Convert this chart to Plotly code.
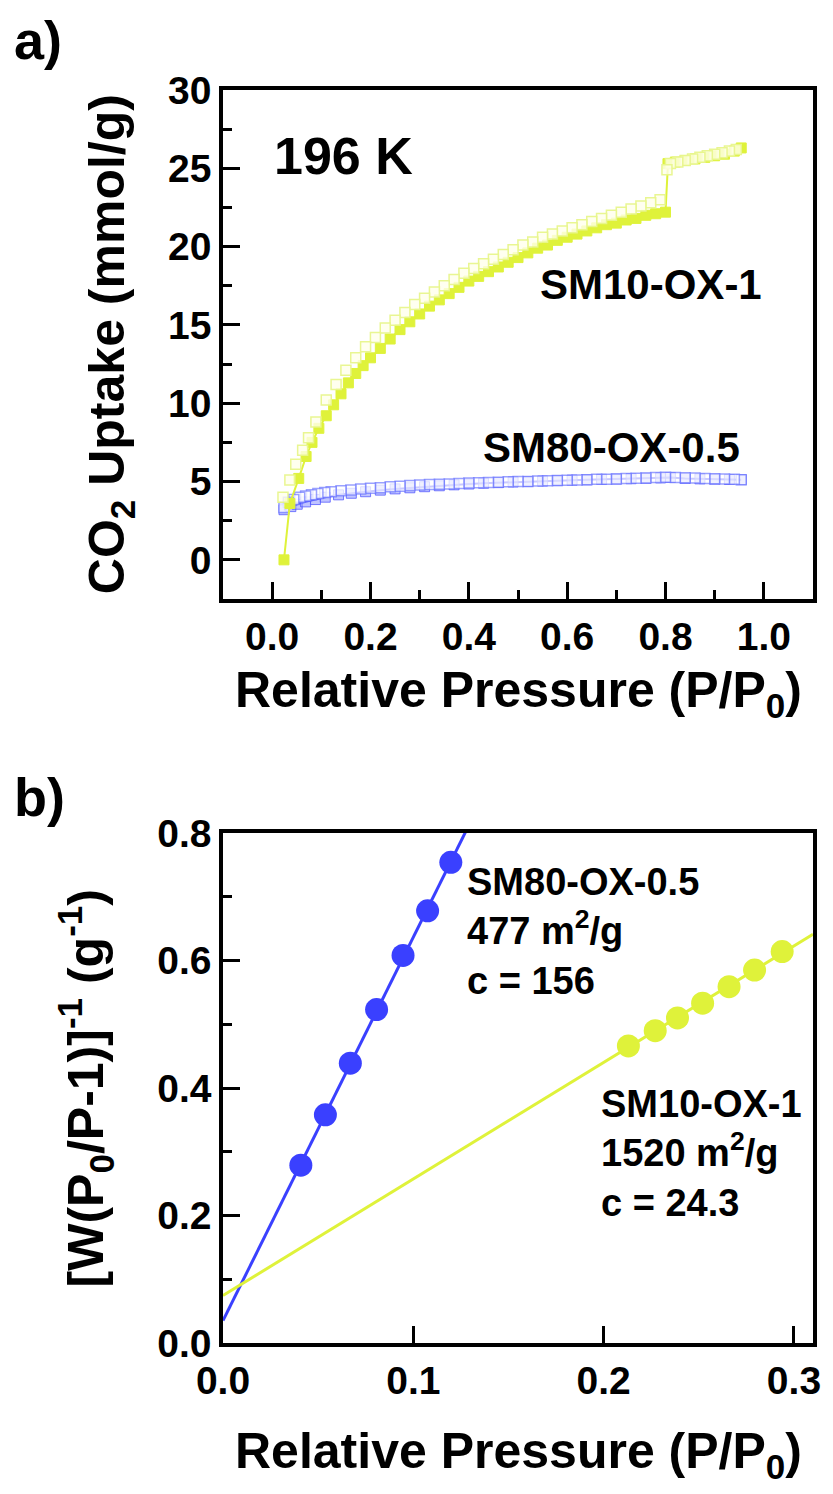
import numpy as np
import plotly.graph_objects as go

# ---------------- Panel a data (CO2 isotherms at 196 K) ----------------
sm10_ads_x = [0.024, 0.036, 0.054, 0.069, 0.081, 0.095, 0.11, 0.125, 0.14, 0.155, 0.17, 0.185,
              0.20, 0.22, 0.24, 0.26, 0.28, 0.30, 0.32, 0.34, 0.36, 0.38, 0.40, 0.42, 0.44,
              0.46, 0.48, 0.50, 0.52, 0.54, 0.56, 0.58, 0.60, 0.62, 0.64, 0.66, 0.68, 0.70,
              0.72, 0.74, 0.76, 0.78, 0.80, 0.805, 0.82, 0.84, 0.86, 0.88, 0.90, 0.92, 0.94, 0.954]
sm10_ads_y = [0.0, 3.6, 5.2, 6.6, 7.5, 8.4, 9.2, 9.9, 10.6, 11.3, 11.9, 12.4,
              12.9, 13.5, 14.1, 14.7, 15.2, 15.7, 16.2, 16.6, 17.0, 17.4, 17.8, 18.1, 18.4,
              18.7, 19.0, 19.3, 19.6, 19.9, 20.1, 20.4, 20.6, 20.8, 21.0, 21.2, 21.4, 21.5,
              21.7, 21.8, 22.0, 22.1, 22.2, 25.3, 25.4, 25.5, 25.6, 25.7, 25.8, 25.9, 26.1, 26.3]

sm10_des_x = [0.944, 0.93, 0.915, 0.90, 0.885, 0.87, 0.855, 0.84, 0.825, 0.81, 0.803, 0.789,
              0.77, 0.75, 0.73, 0.71, 0.69, 0.67, 0.65, 0.63, 0.61, 0.59, 0.57, 0.55, 0.53,
              0.51, 0.49, 0.47, 0.45, 0.43, 0.41, 0.39, 0.37, 0.35, 0.33, 0.31, 0.29, 0.27,
              0.25, 0.23, 0.21, 0.19, 0.17, 0.15, 0.13, 0.11, 0.089, 0.074, 0.062, 0.048,
              0.036, 0.022]
sm10_des_y = [26.2, 26.1, 26.0, 25.9, 25.8, 25.7, 25.6, 25.5, 25.4, 25.3, 24.9, 23.0,
              22.8, 22.6, 22.4, 22.2, 22.0, 21.8, 21.6, 21.4, 21.2, 21.0, 20.8, 20.6, 20.3,
              20.1, 19.8, 19.5, 19.2, 18.9, 18.6, 18.3, 17.9, 17.5, 17.1, 16.7, 16.3, 15.8,
              15.3, 14.8, 14.2, 13.6, 12.9, 12.1, 11.2, 10.2, 8.8, 7.8, 7.0, 6.1,
              5.1, 4.0]

sm80_ads_x = [0.024, 0.038, 0.051, 0.068, 0.088, 0.108, 0.135, 0.161, 0.19, 0.22, 0.25, 0.28,
              0.31, 0.34, 0.37, 0.40, 0.43, 0.46, 0.49, 0.52, 0.55, 0.58, 0.61, 0.64, 0.67,
              0.70, 0.73, 0.76, 0.79, 0.81, 0.84, 0.87, 0.90, 0.93, 0.954]
sm80_ads_y = [3.2, 3.4, 3.55, 3.7, 3.85, 4.0, 4.15, 4.25, 4.35, 4.45, 4.53, 4.6,
              4.67, 4.73, 4.79, 4.84, 4.89, 4.93, 4.97, 5.0, 5.03, 5.06, 5.09, 5.11, 5.14,
              5.16, 5.18, 5.21, 5.23, 5.26, 5.2, 5.17, 5.15, 5.13, 5.12]

sm80_des_x = [0.954, 0.94, 0.92, 0.90, 0.88, 0.86, 0.84, 0.82, 0.80, 0.78, 0.76, 0.74, 0.72,
              0.70, 0.68, 0.66, 0.64, 0.62, 0.60, 0.58, 0.56, 0.54, 0.52, 0.50, 0.48, 0.46,
              0.44, 0.42, 0.40, 0.38, 0.36, 0.34, 0.32, 0.30, 0.28, 0.26, 0.24, 0.22, 0.20,
              0.18, 0.16, 0.14, 0.12, 0.107, 0.093, 0.08, 0.068, 0.056, 0.044, 0.033, 0.024]
sm80_des_y = [5.12, 5.14, 5.16, 5.18, 5.2, 5.22, 5.24, 5.26, 5.27, 5.25, 5.23, 5.21, 5.19,
              5.17, 5.15, 5.14, 5.12, 5.1, 5.08, 5.07, 5.05, 5.03, 5.01, 5.0, 4.98, 4.96,
              4.94, 4.92, 4.9, 4.88, 4.85, 4.83, 4.81, 4.78, 4.74, 4.7, 4.66, 4.61, 4.57,
              4.52, 4.46, 4.41, 4.35, 4.3, 4.23, 4.16, 4.08, 3.99, 3.85, 3.68, 3.35]

# ---------------- Panel b data (BET plots) ----------------
bet_sm80_x = [0.0409, 0.0538, 0.0669, 0.0807, 0.0946, 0.1075, 0.1197]
bet_sm80_y = [0.279, 0.358, 0.439, 0.523, 0.608, 0.678, 0.754]
bet_sm10_x = [0.2130, 0.2271, 0.2388, 0.2520, 0.2659, 0.2793, 0.2938]
bet_sm10_y = [0.466, 0.490, 0.510, 0.533, 0.559, 0.585, 0.614]
fit_x_range = [0.0, 0.31]

bet_sm80_label = ["SM80-OX-0.5", "477 m<sup>2</sup>/g", "c = 156"]
bet_sm10_label = ["SM10-OX-1", "1520 m<sup>2</sup>/g", "c = 24.3"]

# ---------------- styling ----------------
YEL = "#dff23a"
YEL_LIGHT = "rgba(232,245,140,0.95)"
BLUE = "#3a40ff"
BLUE_LINE = "#2a2aff"
FONT = "Liberation Sans, Arial, sans-serif"

W, H = 833, 1494
L_PX, R_PX, T_PX, B_PX = 223, 819, 90, 1343
A_BOT, B_TOP = 599, 833


def px(xp):
    return (xp - L_PX) / (R_PX - L_PX)


def py(yp):
    return (B_PX - yp) / (B_PX - T_PX)


fig = go.Figure()

MS = 10
# panel a traces
fig.add_trace(go.Scatter(
    x=sm80_ads_x, y=sm80_ads_y, mode="lines+markers", xaxis="x", yaxis="y",
    line=dict(color=BLUE_LINE, width=2),
    marker=dict(symbol="square", size=MS, color="rgba(140,148,255,0.55)",
                line=dict(color="rgba(70,75,255,0.7)", width=1)),
    showlegend=False))
fig.add_trace(go.Scatter(
    x=sm80_des_x, y=sm80_des_y, mode="markers", xaxis="x", yaxis="y",
    marker=dict(symbol="square", size=MS, color="rgba(255,255,255,0.75)",
                line=dict(color="rgba(100,110,255,0.65)", width=1.5)),
    showlegend=False))
fig.add_trace(go.Scatter(
    x=sm10_ads_x, y=sm10_ads_y, mode="lines+markers", xaxis="x", yaxis="y",
    line=dict(color=YEL, width=2),
    marker=dict(symbol="square", size=MS, color=YEL, line=dict(color=YEL, width=1)),
    showlegend=False))
fig.add_trace(go.Scatter(
    x=sm10_des_x, y=sm10_des_y, mode="markers", xaxis="x", yaxis="y",
    marker=dict(symbol="square", size=MS, color="rgba(255,255,235,0.8)",
                line=dict(color=YEL_LIGHT, width=1.5)),
    showlegend=False))

# panel b traces
for bx, by, col in [(bet_sm80_x, bet_sm80_y, BLUE), (bet_sm10_x, bet_sm10_y, YEL)]:
    slope, icpt = np.polyfit(bx, by, 1)
    fx = np.array(fit_x_range)
    fig.add_trace(go.Scatter(x=fx, y=slope * fx + icpt, mode="lines", xaxis="x2", yaxis="y2",
                             line=dict(color=col, width=3), showlegend=False))
    fig.add_trace(go.Scatter(x=bx, y=by, mode="markers", xaxis="x2", yaxis="y2",
                             marker=dict(symbol="circle", size=23, color=col), showlegend=False))

axis_common = dict(
    showline=True, linecolor="black", linewidth=3.5, mirror=True,
    ticks="inside", ticklen=17, tickwidth=3, tickcolor="black",
    showgrid=False, zeroline=False,
    tickfont=dict(family=FONT, size=39, color="black", weight="bold"),
)

fig.update_layout(
    width=W, height=H,
    margin=dict(l=L_PX, r=W - R_PX, t=T_PX, b=H - B_PX),
    paper_bgcolor="white", plot_bgcolor="white",
    xaxis=dict(**axis_common, domain=[0, 1], anchor="y", range=[-0.1, 1.1],
               tick0=0, dtick=0.2, tickformat=".1f",
               minor=dict(dtick=0.1, tick0=0, ticks="inside", ticklen=9, tickwidth=3, tickcolor="black")),
    yaxis=dict(**axis_common, domain=[py(A_BOT), 1], anchor="x", range=[-2.5, 30],
               tick0=0, dtick=5,
               minor=dict(dtick=2.5, tick0=0, ticks="inside", ticklen=9, tickwidth=3, tickcolor="black")),
    xaxis2=dict(**axis_common, domain=[0, 1], anchor="y2", range=[0, 0.31],
                tick0=0, dtick=0.1, tickformat=".1f"),
    yaxis2=dict(**axis_common, domain=[0, py(B_TOP)], anchor="x2", range=[0, 0.8],
                tick0=0, dtick=0.2, tickformat=".1f",
                minor=dict(dtick=0.1, tick0=0, ticks="inside", ticklen=9, tickwidth=3, tickcolor="black")),
)

ann = []


def add_text(text, x, y, size, xref="paper", yref="paper", xanchor="center", yanchor="middle",
             angle=0, align="center"):
    ann.append(dict(text=text, x=x, y=y, xref=xref, yref=yref, xanchor=xanchor, yanchor=yanchor,
                    showarrow=False, textangle=angle, align=align,
                    font=dict(family=FONT, size=size, color="black", weight="bold")))


# panel letters and axis titles
add_text("a)", px(36), py(40), 54)
add_text("b)", px(38), py(797), 54)
add_text("CO<sub>2</sub> Uptake (mmol/g)", px(109), py(344), 50, angle=-90)
add_text("Relative Pressure (P/P<sub>0</sub>)", px(521), py(693), 50)
add_text("[W(P<sub>0</sub>/P-1)]<sup>-1</sup> (g<sup>-1</sup>)", px(84), py(1088), 50, angle=-90)
add_text("Relative Pressure (P/P<sub>0</sub>)", px(521), py(1455), 50)

# panel a labels
add_text("196 K", 0.0, 25.8, 52, xref="x", yref="y", xanchor="left")
add_text("SM10-OX-1", 1.0, 17.6, 42, xref="x", yref="y", xanchor="right")
add_text("SM80-OX-0.5", 0.955, 7.2, 42, xref="x", yref="y", xanchor="right")

# panel b labels (three-line blocks)
add_text("<br>".join(bet_sm80_label), 0.127, 0.646, 38, xref="x2", yref="y2",
         xanchor="left", align="left")
add_text("<br>".join(bet_sm10_label), 0.1976, 0.2965, 38, xref="x2", yref="y2",
         xanchor="left", align="left")

fig.update_layout(annotations=ann)

fig.write_html("out.html")
